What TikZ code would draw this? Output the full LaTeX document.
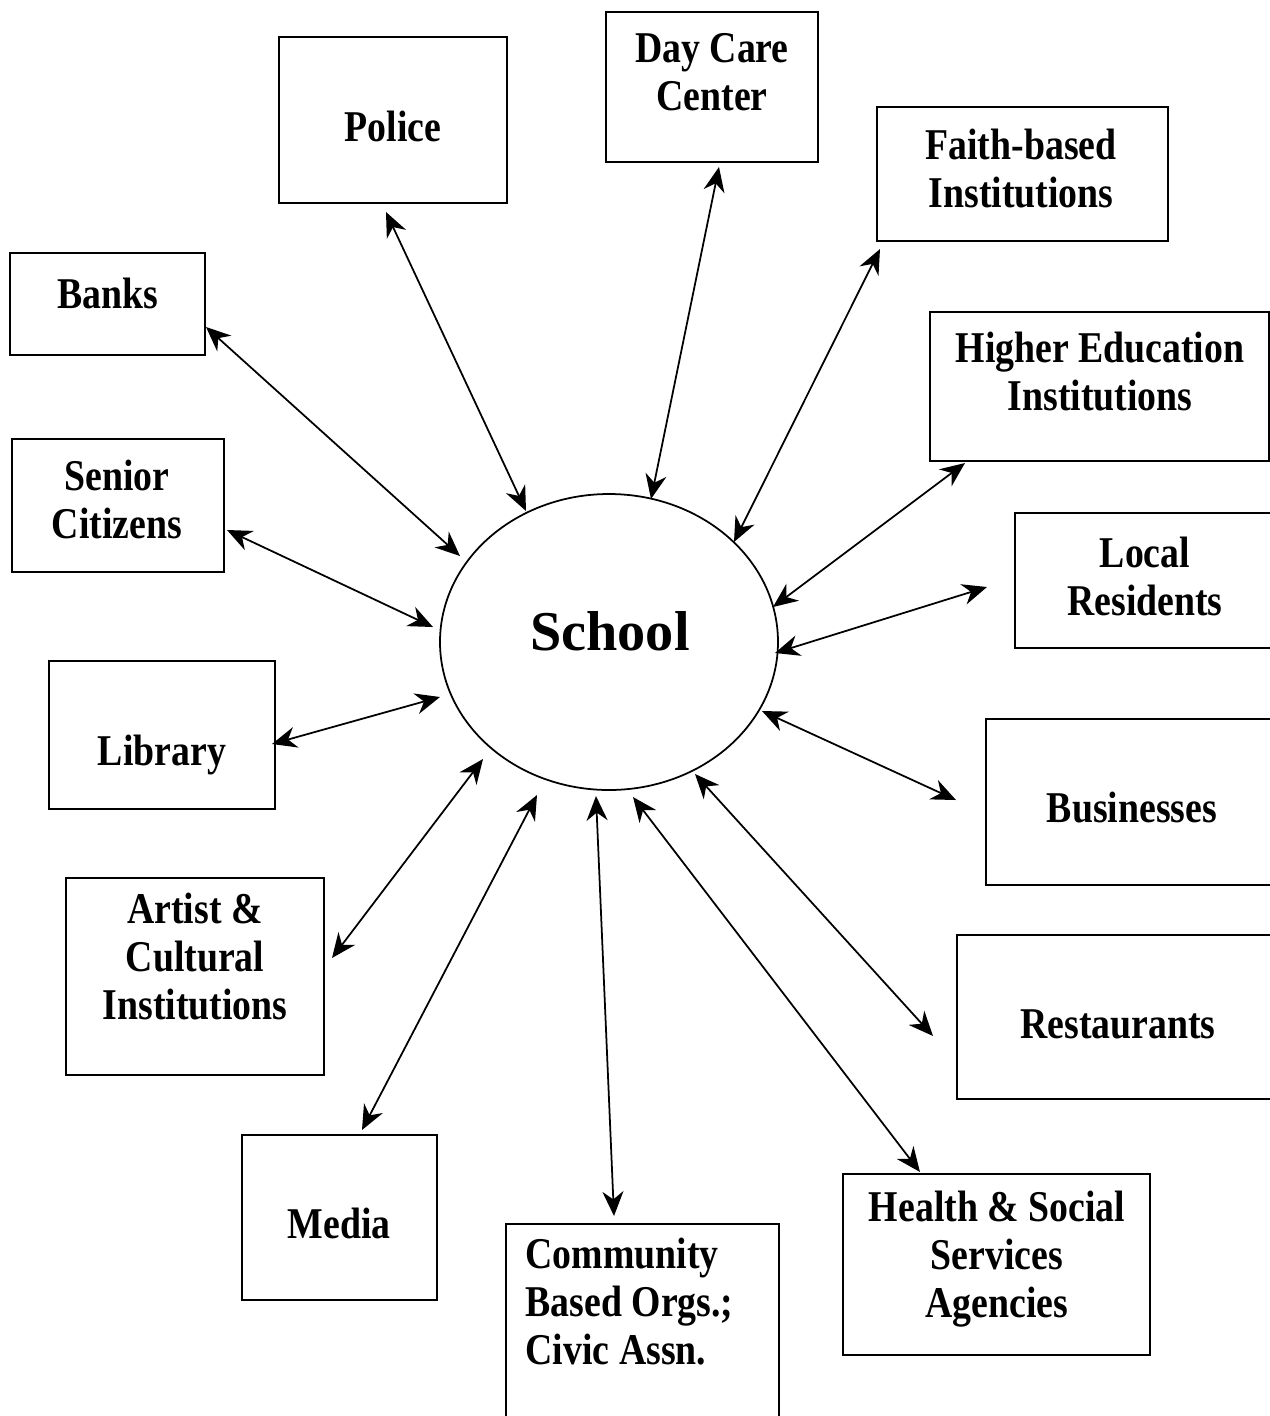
\documentclass[tikz,border=0pt]{standalone}
\usepackage{fontspec}
\setmainfont{Liberation Serif}
\newfontfamily\boxfont[FakeStretch=0.86]{Liberation Serif}
\usetikzlibrary{positioning, shapes.geometric, arrows.meta}

\begin{document}
\begin{tikzpicture}
    \useasboundingbox (0,0) rectangle (12.70,-14.16);

    % Define styles
    \tikzset{
        box/.style={draw, rectangle, line width=0.6pt, inner sep=0pt},
        boxtext/.style={font=\boxfont\bfseries\fontsize{12.5}{13.6}\selectfont, align=center, inner sep=0pt, anchor=base},
        link/.style={{Stealth[length=7pt,width=6pt]}-{Stealth[length=7pt,width=6pt]}, line width=0.5pt}
    }

    % Define nodes
	\node[draw, ellipse, line width=0.5pt, minimum width=3.38cm, minimum height=2.96cm] (School) at (6.09,-6.42) {};
	\node[font=\bfseries\fontsize{16}{18}\selectfont, inner sep=0pt, anchor=base] (SchoolText) at (6.10,-6.50) {School};

	\node[box, minimum width=2.28cm, minimum height=1.66cm] (Police) at (3.93,-1.20) {};
	\node[box, minimum width=2.12cm, minimum height=1.50cm] (DayCare) at (7.12,-0.87) {};
	\node[box, minimum width=2.91cm, minimum height=1.34cm] (Faith) at (10.225,-1.74) {};
	\node[box, minimum width=1.95cm, minimum height=1.02cm] (Banks) at (1.075,-3.04) {};
	\node[box, minimum width=3.39cm, minimum height=1.49cm] (HigherEd) at (10.995,-3.865) {};
	\node[box, minimum width=2.12cm, minimum height=1.33cm] (Senior) at (1.18,-5.055) {};
	\node[box, minimum width=2.85cm, minimum height=1.35cm] (Local) at (11.575,-5.805) {};
	\node[box, minimum width=2.26cm, minimum height=1.48cm] (Library) at (1.62,-7.35) {};
	\node[box, minimum width=3.14cm, minimum height=1.66cm] (Businesses) at (11.43,-8.02) {};
	\node[box, minimum width=2.58cm, minimum height=1.97cm] (Artist) at (1.95,-9.765) {};
	\node[box, minimum width=3.43cm, minimum height=1.64cm] (Restaurants) at (11.285,-10.17) {};
	\node[box, minimum width=1.95cm, minimum height=1.65cm] (Media) at (3.395,-12.175) {};
	\node[box, minimum width=2.73cm, minimum height=2.76cm] (Community) at (6.425,-13.62) {};
	\node[box, minimum width=3.07cm, minimum height=1.81cm] (Health) at (9.965,-12.645) {};

    % Box texts (placed at the baseline of their last line)
	\node[boxtext] (PoliceText) at (3.93,-1.41) {Police};
	\node[boxtext] (DayCareText) at (7.12,-1.10) {Day Care\\Center};
	\node[boxtext] (FaithText) at (10.21,-2.07) {Faith-based\\Institutions};
	\node[boxtext] (BanksText) at (1.08,-3.08) {Banks};
	\node[boxtext] (HigherEdText) at (11.00,-4.10) {Higher Education\\Institutions};
	\node[boxtext] (SeniorText) at (1.17,-5.38) {Senior\\Citizens};
	\node[boxtext] (LocalText) at (11.45,-6.15) {Local\\Residents};
	\node[boxtext] (LibraryText) at (1.62,-7.65) {Library};
	\node[boxtext] (BusinessesText) at (11.32,-8.22) {Businesses};
	\node[boxtext] (ArtistText) at (1.95,-10.19) {Artist \&\\Cultural\\Institutions};
	\node[boxtext] (RestaurantsText) at (11.18,-10.38) {Restaurants};
	\node[boxtext] (MediaText) at (3.39,-12.38) {Media};
	\node[boxtext, align=left, anchor=base west] (CommunityText) at (5.25,-13.64) {Community\\Based Orgs.;\\Civic Assn.};
	\node[boxtext] (HealthText) at (9.97,-13.17) {Health \& Social\\Services\\Agencies};

    % Arrow ends
	\coordinate (PoliceEnd) at (3.86,-2.12);      \coordinate (SchoolPolice) at (5.26,-5.11);
	\coordinate (DayCareEnd) at (7.19,-1.67);     \coordinate (SchoolDayCare) at (6.51,-4.99);
	\coordinate (FaithEnd) at (8.80,-2.49);       \coordinate (SchoolFaith) at (7.34,-5.42);
	\coordinate (BanksEnd) at (2.06,-3.27);       \coordinate (SchoolBanks) at (4.60,-5.56);
	\coordinate (HigherEdEnd) at (9.65,-4.63);    \coordinate (SchoolHigherEd) at (7.73,-6.07);
	\coordinate (SeniorEnd) at (2.27,-5.30);      \coordinate (SchoolSenior) at (4.33,-6.27);
	\coordinate (LocalEnd) at (9.87,-5.87);       \coordinate (SchoolLocal) at (7.75,-6.53);
	\coordinate (LibraryEnd) at (2.72,-7.44);     \coordinate (SchoolLibrary) at (4.40,-6.97);
	\coordinate (BusinessesEnd) at (9.56,-8.00);  \coordinate (SchoolBusinesses) at (7.62,-7.11);
	\coordinate (ArtistEnd) at (3.32,-9.58);      \coordinate (SchoolArtist) at (4.83,-7.59);
	\coordinate (RestaurantsEnd) at (9.33,-10.36);\coordinate (SchoolRestaurants) at (6.95,-7.74);
	\coordinate (MediaEnd) at (3.62,-11.30);      \coordinate (SchoolMedia) at (5.37,-7.95);
	\coordinate (CommunityEnd) at (6.14,-12.16);  \coordinate (SchoolCommunity) at (5.96,-7.96);
	\coordinate (HealthEnd) at (9.20,-11.72);     \coordinate (SchoolHealth) at (6.33,-7.97);

    % Draw links
	\draw[link] (PoliceEnd) -- (SchoolPolice);
	\draw[link] (DayCareEnd) -- (SchoolDayCare);
	\draw[link] (FaithEnd) -- (SchoolFaith);
	\draw[link] (BanksEnd) -- (SchoolBanks);
	\draw[link] (HigherEdEnd) -- (SchoolHigherEd);
	\draw[link] (SeniorEnd) -- (SchoolSenior);
	\draw[link] (LocalEnd) -- (SchoolLocal);
	\draw[link] (LibraryEnd) -- (SchoolLibrary);
	\draw[link] (BusinessesEnd) -- (SchoolBusinesses);
	\draw[link] (ArtistEnd) -- (SchoolArtist);
	\draw[link] (RestaurantsEnd) -- (SchoolRestaurants);
	\draw[link] (MediaEnd) -- (SchoolMedia);
	\draw[link] (CommunityEnd) -- (SchoolCommunity);
	\draw[link] (HealthEnd) -- (SchoolHealth);
\end{tikzpicture}
\end{document}
